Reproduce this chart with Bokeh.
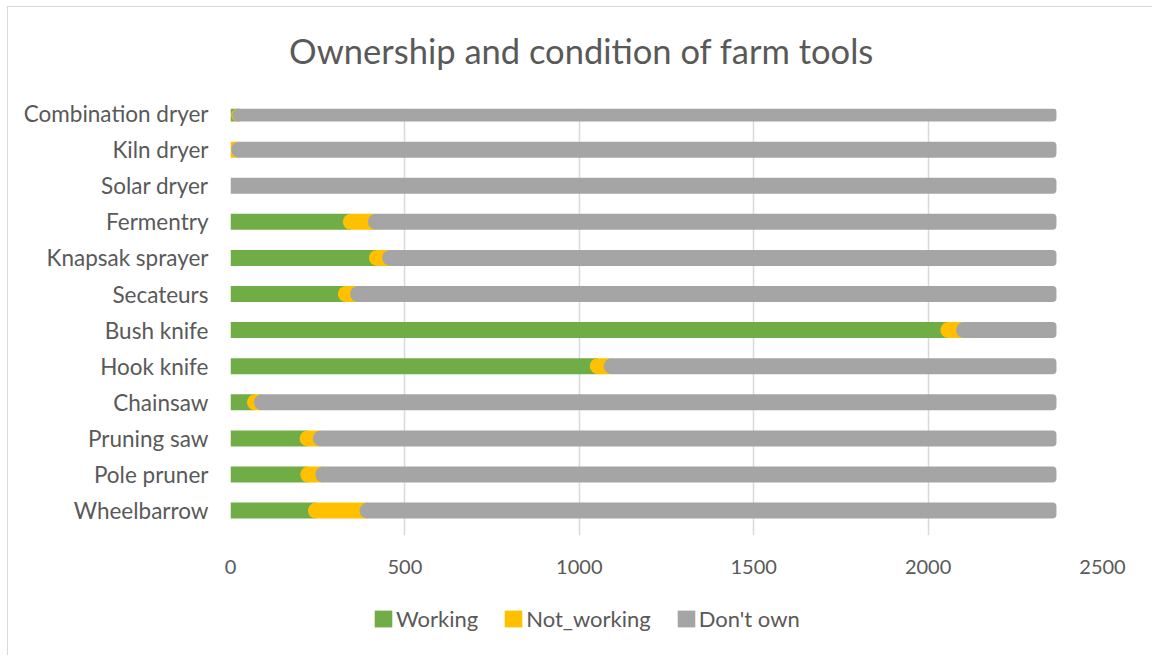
from bokeh.plotting import figure
from bokeh.layouts import column
from bokeh.models import Range1d, FixedTicker, Legend, LegendItem, Label
from bokeh.embed import file_html
from bokeh.resources import INLINE

# ---- data (bottom to top) ----
tools = ["Wheelbarrow", "Pole pruner", "Pruning saw", "Chainsaw", "Hook knife",
         "Bush knife", "Secateurs", "Knapsak sprayer", "Fermentry",
         "Solar dryer", "Kiln dryer", "Combination dryer"]
working = [222, 200, 198, 47, 1030, 2035, 308, 397, 322, 0, 0, 2]
not_working = [148, 43, 38, 20, 40, 45, 35, 38, 72, 0, 2, 3]
respondents = 2368
dont_own = [respondents - w - n for w, n in zip(working, not_working)]
x_ticks = [0, 500, 1000, 1500, 2000, 2500]
series_names = ["Working", "Not_working", "Don't own"]
colors = ["#70AD47", "#FFC000", "#A5A5A5"]
title_text = "Ownership and condition of farm tools"

TEXT = "#595959"
FONT = "Lato"

W = 1144
H0, H1, H2 = 70, 511, 67
ML, MR, MT, MB = 222, 50, 31, 53
frame_w = W - ML - MR
x_end = 2500
px_per_unit = frame_w / x_end
bar_px = 16
cap_r = bar_px // 2
ext = cap_r / px_per_unit  # data units hidden under the next segment's rounded cap

ypos = list(range(len(tools)))
y_range = Range1d(-0.69, len(tools) - 1 + 0.14)
frame_h = H1 - MT - MB
bar_h = bar_px * (y_range.end - y_range.start) / frame_h


def strip(height):
    f = figure(width=W, height=height, output_backend="svg", toolbar_location=None,
               x_range=Range1d(0, 1), y_range=Range1d(0, 1),
               min_border_left=0, min_border_right=0, min_border_top=0,
               min_border_bottom=0, background_fill_color="white",
               border_fill_color="white")
    f.axis.visible = False
    f.grid.grid_line_color = None
    f.outline_line_color = None
    return f


# title strip
p0 = strip(H0)
p0.add_layout(Label(x=351, y=27, x_units="screen", y_units="screen",
                    text=title_text, text_align="center", text_baseline="middle",
                    text_font=FONT, text_font_size="34.5px", text_color=TEXT))

p = figure(width=W, height=H1, output_backend="svg", toolbar_location=None,
           x_range=Range1d(0, x_end), y_range=y_range,
           min_border_left=ML, min_border_right=MR,
           min_border_top=MT, min_border_bottom=MB,
           background_fill_color="white", border_fill_color="white")
p.outline_line_color = None

# segments
ys_w = [y for y, w in zip(ypos, working) if w > 0]
l_w = [0 for w in working if w > 0]
r_w = [w + ext for w in working if w > 0]
p.hbar(y=ys_w, left=l_w, right=r_w, height=bar_h,
       fill_color=colors[0], line_color=None)

nw_round = [i for i in ypos if working[i] > 0]
nw_sq = [i for i in ypos if working[i] == 0 and not_working[i] > 0]
p.hbar(y=nw_round, left=[working[i] for i in nw_round],
       right=[working[i] + not_working[i] + ext for i in nw_round],
       height=bar_h, fill_color=colors[1], line_color=None,
       border_radius=(cap_r, 0, 0, cap_r))
if nw_sq:
    p.hbar(y=nw_sq, left=[working[i] for i in nw_sq],
           right=[working[i] + not_working[i] + ext for i in nw_sq],
           height=bar_h, fill_color=colors[1], line_color=None)

do_round = [i for i in ypos if working[i] + not_working[i] > 0]
do_sq = [i for i in ypos if working[i] + not_working[i] == 0]
p.hbar(y=do_round, left=[working[i] + not_working[i] for i in do_round],
       right=[working[i] + not_working[i] + dont_own[i] for i in do_round],
       height=bar_h, fill_color=colors[2], line_color=None,
       border_radius=(cap_r, 4, 4, cap_r))
if do_sq:
    p.hbar(y=do_sq, left=[0 for i in do_sq], right=[dont_own[i] for i in do_sq],
           height=bar_h, fill_color=colors[2], line_color=None,
           border_radius=(0, 4, 4, 0))

# axes
p.xaxis.ticker = FixedTicker(ticks=x_ticks)
p.xaxis.axis_line_color = None
p.xaxis.major_tick_line_color = None
p.xaxis.minor_tick_line_color = None
p.xaxis.major_label_text_font = FONT
p.xaxis.major_label_text_font_size = "20px"
p.xaxis.major_label_text_color = TEXT
p.xaxis.major_label_standoff = 18

p.yaxis.ticker = FixedTicker(ticks=ypos)
p.yaxis.major_label_overrides = {i: t for i, t in zip(ypos, tools)}
p.yaxis.axis_line_color = None
p.yaxis.major_tick_line_color = None
p.yaxis.minor_tick_line_color = None
p.yaxis.major_label_text_font = FONT
p.yaxis.major_label_text_font_size = "22.5px"
p.yaxis.major_label_text_color = TEXT
p.yaxis.major_label_standoff = 16

p.xgrid.grid_line_color = "#d9d9d9"
p.xgrid.grid_line_width = 1.5
p.ygrid.grid_line_color = None

# legend strip below the chart (swatches are zero-size proxies for the key)
p2 = strip(H2)
swatches = [p2.hbar(y=[0], left=[0], right=[0], height=0, fill_color=c, line_color=None)
            for c in colors]
legend = Legend(items=[LegendItem(label=n, renderers=[r])
                       for n, r in zip(series_names, swatches)],
                orientation="horizontal", location=(142, 23),
                label_text_font=FONT, label_text_font_size="22px",
                label_text_color=TEXT, glyph_width=22, glyph_height=21,
                label_standoff=2, spacing=24, padding=0, margin=0,
                border_line_color=None, background_fill_alpha=0)
p2.add_layout(legend, "center")

layout = column(p0, p, p2, spacing=0)
layout.styles = {"border-left": "1px solid #d9d9d9", "border-top": "1px solid #d9d9d9",
                 "margin-left": "7px", "margin-top": "6px"}

open("out.html", "w").write(file_html(layout, INLINE))
